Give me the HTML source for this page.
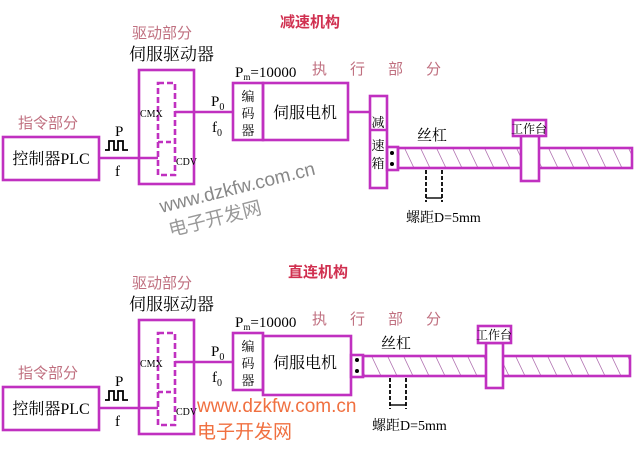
<!DOCTYPE html>
<html><head><meta charset="utf-8"><style>
html,body{margin:0;padding:0;background:#fff;}
svg{display:block;}
text{font-family:"Liberation Serif","Noto Serif CJK SC",serif;}
.s{font-family:"Liberation Sans","Noto Sans CJK SC",sans-serif;}
</style></head><body>
<svg width="640" height="457" viewBox="0 0 640 457" xmlns="http://www.w3.org/2000/svg">
<defs>
<pattern id="h" width="16" height="21" patternUnits="userSpaceOnUse">
<line x1="4" y1="0" x2="14" y2="21" stroke="#b070b0" stroke-width="0.8"/>
</pattern>
<g id="common" fill="none" stroke="#c030c0" stroke-width="2.6">
<text x="132" y="38" class="s" fill="#c07080" stroke="none" font-size="15">驱动部分</text>
<text x="129" y="60" fill="#000" stroke="none" font-size="17">伺服驱动器</text>
<text x="18" y="128" class="s" fill="#c07080" stroke="none" font-size="15">指令部分</text>
<rect x="3" y="137" width="96" height="43"/>
<text x="51" y="164" text-anchor="middle" fill="#000" stroke="none" font-size="16">控制器PLC</text>
<rect x="139" y="70" width="55" height="114"/>
<rect x="158" y="83" width="17" height="92" stroke-dasharray="6,3"/>
<line x1="158" y1="142" x2="175" y2="142" stroke-dasharray="5,3"/>
<line x1="99" y1="158" x2="158" y2="158"/>
<line x1="175" y1="112" x2="233" y2="112"/>
<path d="M105 150 h4 v-9 h5 v9 h4 v-9 h5 v9 h5" stroke="#000" stroke-width="1.8"/>
<text x="115" y="136" fill="#000" stroke="none" font-size="15">P</text>
<text x="115" y="176" fill="#000" stroke="none" font-size="15">f</text>
<text x="140" y="117" fill="#000" stroke="none" font-size="10">CMX</text>
<text x="176" y="165" fill="#000" stroke="none" font-size="10">CDV</text>
<text x="211" y="106" fill="#000" stroke="none" font-size="15">P<tspan font-size="10" dy="4">0</tspan></text>
<text x="212" y="132" fill="#000" stroke="none" font-size="15">f<tspan font-size="10" dy="4">0</tspan></text>
<text x="235" y="77" fill="#000" stroke="none" font-size="15">P<tspan font-size="9" dy="3">m</tspan><tspan dy="-3">=10000</tspan></text>
<text x="312" y="74" class="s" fill="#c07080" stroke="none" font-size="15" letter-spacing="23">执行部分</text>
<rect x="233" y="83" width="30" height="57"/>
<text x="248" y="101" text-anchor="middle" fill="#000" stroke="none" font-size="13">编</text>
<text x="248" y="118" text-anchor="middle" fill="#000" stroke="none" font-size="13">码</text>
<text x="248" y="135" text-anchor="middle" fill="#000" stroke="none" font-size="13">器</text>
<text x="305" y="118" text-anchor="middle" fill="#000" stroke="none" font-size="16">伺服电机</text>
</g>
</defs>

<!-- top -->
<text x="280" y="27" class="s" fill="#d03050" font-size="15" font-weight="bold">减速机构</text>
<use href="#common"/>
<g fill="none" stroke="#c030c0" stroke-width="2.6">
<rect x="263" y="83" width="85" height="57"/>
<line x1="348" y1="112" x2="370" y2="112"/>
<rect x="370" y="96" width="17" height="92"/>
<line x1="370" y1="130" x2="387" y2="130"/>
<rect x="387" y="147" width="11" height="23"/>
<rect x="398" y="148" width="234" height="20" fill="url(#h)"/>
<rect x="521" y="136" width="18" height="45" fill="#fff"/>
<rect x="513" y="120" width="33" height="16" fill="#fff"/>
</g>
<text x="378" y="127" text-anchor="middle" font-size="13">减</text>
<text x="378" y="150" text-anchor="middle" font-size="13">速</text>
<text x="378" y="168" text-anchor="middle" font-size="13">箱</text>
<circle cx="392" cy="153" r="2"/><circle cx="392" cy="164" r="2"/>
<text x="529" y="133" text-anchor="middle" font-size="12">工作台</text>
<text x="417" y="140" font-size="15">丝杠</text>
<g stroke="#000" stroke-width="1.8" stroke-dasharray="4,2">
<line x1="426" y1="170" x2="426" y2="202"/><line x1="442" y1="170" x2="442" y2="202"/>
</g>
<line x1="426" y1="198" x2="442" y2="198" stroke="#000" stroke-width="1.4"/>
<text x="406" y="222" font-size="14">螺距D=5mm</text>
<g transform="rotate(-14 240 185)">
<text x="157" y="193" class="s" fill="#888" font-size="19">www.dzkfw.com.cn</text>
<text x="160" y="218" class="s" fill="#999" font-size="19">电子开发网</text>
</g>

<!-- bottom -->
<text x="288" y="277" class="s" fill="#d03050" font-size="15" font-weight="bold">直连机构</text>
<use href="#common" transform="translate(0,250)"/>
<g fill="none" stroke="#c030c0" stroke-width="2.6">
<rect x="263" y="336" width="88" height="59"/>
<rect x="351" y="355" width="12" height="22"/>
<rect x="363" y="356" width="267" height="20" fill="url(#h)"/>
<rect x="486" y="343" width="17" height="45" fill="#fff"/>
<rect x="478" y="326" width="33" height="17" fill="#fff"/>
</g>
<circle cx="357" cy="360" r="2"/><circle cx="357" cy="371" r="2"/>
<text x="494" y="339" text-anchor="middle" font-size="12">工作台</text>
<text x="381" y="348" font-size="15">丝杠</text>
<g stroke="#000" stroke-width="1.8" stroke-dasharray="4,2">
<line x1="390" y1="378" x2="390" y2="409"/><line x1="406" y1="378" x2="406" y2="409"/>
</g>
<line x1="390" y1="405" x2="406" y2="405" stroke="#000" stroke-width="1.4"/>
<text x="372" y="430" font-size="14">螺距D=5mm</text>
<text x="197" y="412" class="s" fill="#f07040" font-size="19">www.dzkfw.com.cn</text>
<text x="197" y="438" class="s" fill="#f07040" font-size="19">电子开发网</text>
</svg>
</body></html>
